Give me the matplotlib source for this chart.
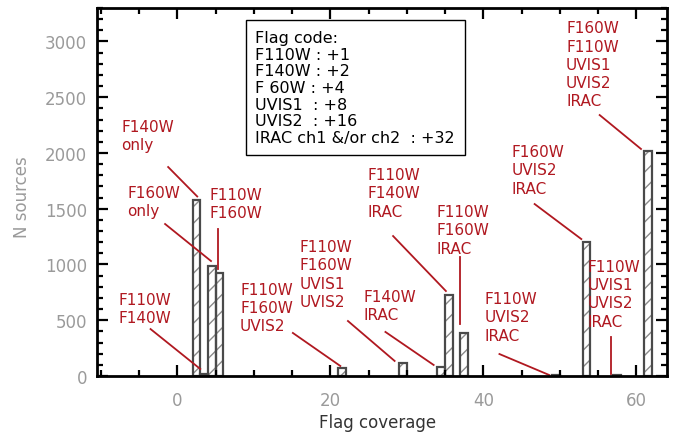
import matplotlib
matplotlib.use("Agg")
import matplotlib.pyplot as plt
from matplotlib.ticker import MultipleLocator

# flag value -> number of sources
flags = [2, 3, 4, 5, 21, 29, 34, 35, 37, 49, 53, 57, 61]
counts = [1580, 15, 985, 925, 75, 115, 80, 730, 390, 10, 1205, 10, 2020]

# labels: text, text anchor (x, y), line start, line end
labels = ["F140W\nonly", "F160W\nonly", "F110W\nF160W", "F110W\nF140W",
          "F110W\nF160W\nUVIS2", "F110W\nF160W\nUVIS1\nUVIS2", "F140W\nIRAC",
          "F110W\nF140W\nIRAC", "F110W\nF160W\nIRAC", "F110W\nUVIS2\nIRAC",
          "F160W\nUVIS2\nIRAC", "F110W\nUVIS1\nUVIS2\nIRAC",
          "F160W\nF110W\nUVIS1\nUVIS2\nIRAC"]
label_xy = [(-7.3, 2305), (-6.5, 1713), (4.2, 1695), (-7.7, 753), (8.2, 843),
            (16.0, 1228), (24.3, 780), (24.9, 1874), (33.9, 1542), (40.2, 762),
            (43.7, 2080), (53.6, 1050), (50.8, 3190)]
line_from = [(-1.2, 1874), (-1.6, 1363), (5.35, 1318), (-3.5, 421), (15.1, 386),
             (22.3, 493), (27.2, 395), (28.2, 1255), (37.0, 1067), (42.1, 197),
             (46.7, 1542), (56.7, 350), (55.2, 2340)]
line_to = [(2.6, 1610), (4.4, 1031), (5.35, 960), (3.0, 63), (21.3, 90),
           (28.4, 135), (33.5, 99), (35.1, 762), (37.0, 466), (48.6, 9),
           (52.8, 1228), (56.7, 18), (60.6, 2036)]

legend_lines = ["Flag code:", "F110W : +1", "F140W : +2", "F 60W : +4",
                "UVIS1  : +8", "UVIS2  : +16", "IRAC ch1 &/or ch2  : +32"]

red = "#b01820"

fig = plt.figure(figsize=(6.73, 4.35), dpi=100)
ax = fig.add_axes([97 / 673, 1 - 377 / 435, 570 / 673, 368 / 435])

ax.bar(flags, counts, width=1, align="edge", facecolor="white",
       edgecolor="#8a8a8a", hatch="//", linewidth=0)
ax.bar(flags, counts, width=1, align="edge", fill=False,
       edgecolor="#4a4a4a", linewidth=1.6)

ax.set_xlim(-10.5, 64)
ax.set_ylim(0, 3300)
ax.xaxis.set_major_locator(MultipleLocator(20))
ax.xaxis.set_minor_locator(MultipleLocator(5))
ax.yaxis.set_major_locator(MultipleLocator(500))
ax.yaxis.set_minor_locator(MultipleLocator(100))
ax.tick_params(which="both", direction="in", top=True, right=True,
               width=1.6, colors="black", labelcolor="#9a9a9a", labelsize=12)
ax.tick_params(which="major", length=8)
ax.tick_params(which="minor", length=4)
ax.tick_params(axis="x", pad=11)
ax.tick_params(axis="y", pad=7)
for s in ax.spines.values():
    s.set_linewidth(2)

for txt, xy, p0, p1 in zip(labels, label_xy, line_from, line_to):
    ax.text(xy[0], xy[1], txt, color=red, fontsize=11, ha="left", va="top",
            linespacing=1.27)
    ax.plot([p0[0], p1[0]], [p0[1], p1[1]], color=red, lw=1.3)

ax.text(0.278, 0.94, "\n".join(legend_lines), transform=ax.transAxes,
        fontsize=11.5, ha="left", va="top", linespacing=1.14,
        bbox=dict(boxstyle="square,pad=0.6", facecolor="white",
                  edgecolor="black", linewidth=1))

fig.text(22 / 673, 1 - 197 / 435, "N sources", rotation=90, color="#9a9a9a",
         fontsize=12, ha="center", va="center")
fig.text(378 / 673, 1 - 423 / 435, "Flag coverage", color="#333333",
         fontsize=12, ha="center", va="center")

fig.savefig("out.png", dpi=100)
